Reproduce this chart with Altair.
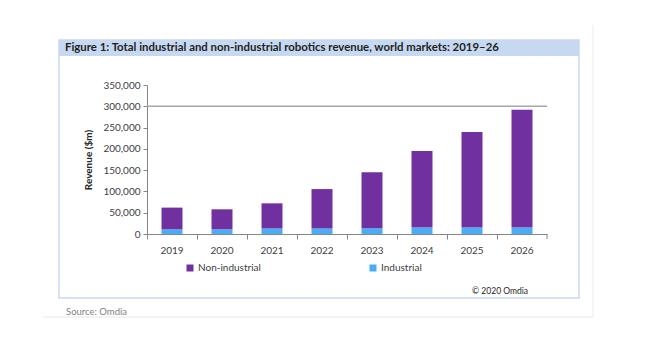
import altair as alt
import pandas as pd

years = ["2019", "2020", "2021", "2022", "2023", "2024", "2025", "2026"]
non_industrial = [51000, 47000, 59000, 92500, 131500, 180000, 224500, 277000]
industrial = [11000, 11000, 13000, 13000, 13500, 15000, 15000, 15000]
series = ["Non-industrial", "Industrial"]
colors = ["#7030A0", "#4BACF6"]
y_ticks = [0, 50000, 100000, 150000, 200000, 250000, 300000, 350000]

title_text = "Figure 1: Total industrial and non-industrial robotics revenue, world markets: 2019\u201326"
FONT = "Lato"

rows = []
for i, y in enumerate(years):
    rows.append({"year": y, "series": "Industrial", "value": industrial[i], "ord": 0})
    rows.append({"year": y, "series": "Non-industrial", "value": non_industrial[i], "ord": 1})
df = pd.DataFrame(rows)
one = pd.DataFrame({"a": [0]})

y_axis = alt.Axis(values=y_ticks, format=",d", title="Revenue ($m)",
                  titleFont=FONT, titleFontSize=10, titleFontWeight="bold",
                  titleColor="#262626", titlePadding=9, labelOverlap=False,
                  labelFont=FONT, labelFontSize=10, labelColor="#404040",
                  labelPadding=3, tickSize=4, tickColor="#868686",
                  domainColor="#868686", gridColor="#E3E3E3")
y_scale = alt.Scale(domain=[0, 350000], nice=False)

# decorations (frame, title band, notes)
band = alt.Chart(one).mark_rect(color="#C6D9F1").encode(
    x=alt.value(-88), x2=alt.value(432), y=alt.value(-45), y2=alt.value(-29))
frame = alt.Chart(one).mark_rect(fill="transparent", stroke="#C6D9F1", strokeWidth=1.5).encode(
    x=alt.value(-88), x2=alt.value(432), y=alt.value(-45), y2=alt.value(213))
outer_h = alt.Chart(one).mark_rule(color="#E6E6E6", strokeWidth=1).encode(
    x=alt.value(-104), x2=alt.value(446), y=alt.value(232))
outer_v = alt.Chart(one).mark_rule(color="#EBEBEB", strokeWidth=1).encode(
    x=alt.value(446), y=alt.value(-60), y2=alt.value(232))
end_tick = alt.Chart(one).mark_rule(color="#868686", strokeWidth=1).encode(
    x=alt.value(400), y=alt.value(149), y2=alt.value(154))
title = alt.Chart(one).mark_text(align="left", baseline="middle", font=FONT, fontSize=11.4,
                                 fontWeight="bold", color="#1F1F1F").encode(
    x=alt.value(-82), y=alt.value(-37), text=alt.value(title_text))
copy = alt.Chart(one).mark_text(align="right", baseline="middle", font=FONT, fontSize=8.5,
                                color="#262626").encode(
    x=alt.value(381), y=alt.value(206), text=alt.value("\u00a9 2020 Omdia"))
source = alt.Chart(one).mark_text(align="left", baseline="middle", font=FONT, fontSize=9.5,
                                  color="#7F7F7F").encode(
    x=alt.value(-81), y=alt.value(227), text=alt.value("Source: Omdia"))

rule300 = alt.Chart(one).mark_rule(color="#A6A6A6", strokeWidth=1.5).encode(
    y=alt.Y(datum=300000, type="quantitative", scale=y_scale, axis=y_axis))

bars = alt.Chart(df).mark_bar(size=21).encode(
    x=alt.X("year:N", sort=years, title=None,
            scale=alt.Scale(paddingInner=0, paddingOuter=0),
            axis=alt.Axis(bandPosition=0, labelOffset=0, labelAngle=0, labelPadding=6,
                          tickSize=5, tickColor="#868686", domainColor="#868686",
                          labelFont=FONT, labelFontSize=10, labelColor="#404040", grid=False)),
    y=alt.Y("value:Q", stack="zero", scale=y_scale, axis=y_axis),
    color=alt.Color("series:N", scale=alt.Scale(domain=series, range=colors),
                    legend=alt.Legend(orient="none", legendX=38, legendY=178,
                                      direction="horizontal", title=None,
                                      symbolType="square", symbolSize=49,
                                      symbolStrokeWidth=0, labelFont=FONT,
                                      labelFontSize=10, labelColor="#404040",
                                      labelOffset=3, columnPadding=107)),
    order=alt.Order("ord:Q"),
)

chart = alt.layer(band, frame, outer_h, outer_v, end_tick, title, copy, source, rule300, bars).properties(
    width=400, height=149,
    padding={"left": 139, "top": 77, "right": 111, "bottom": 119},
    autosize=alt.AutoSizeParams(type="none"),
    background="white",
).configure_view(stroke=None)

chart.save("out.html", embed_options={"renderer": "svg", "actions": False})
